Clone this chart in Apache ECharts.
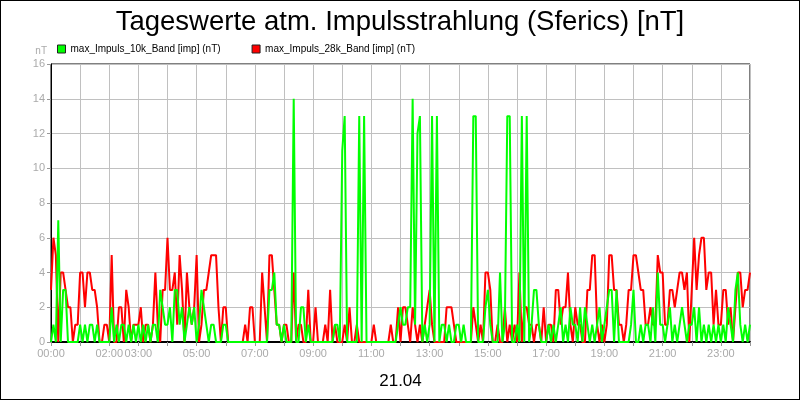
<!DOCTYPE html>
<html>
<head>
<meta charset="utf-8">
<script src="https://cdn.jsdelivr.net/npm/echarts@6/dist/echarts.min.js"></script>
<style>
html,body{margin:0;padding:0;background:#fff;}
#chart{width:798px;height:398px;border:1px solid #000;}
</style>
</head>
<body>
<div id="chart"></div>
<script>
// Title / labels
var chartTitle = 'Tageswerte atm. Impulsstrahlung (Sferics) [nT]';
var dateLabel = '21.04';
var unitLabel = 'nT';
var seriesNames = ['max_Impuls_10k_Band [imp] (nT)', 'max_Impuls_28k_Band [imp] (nT)'];

// x tick labels (hours that carry a label)
var xLabelHours = [0, 2, 3, 5, 7, 9, 11, 13, 15, 17, 19, 21, 23];
var xLabelTexts = ['00:00', '02:00', '03:00', '05:00', '07:00', '09:00', '11:00', '13:00', '15:00', '17:00', '19:00', '21:00', '23:00'];
var yTicks = [0, 2, 4, 6, 8, 10, 12, 14, 16];

// sampling: one value every 5 minutes from 00:00 to 24:00
var sampleMinutes = 5;

// 10k band (green)
var band10k = [
 0,1,0,7,0,3,3,0,0,0,0,0,
 1,0,1,0,1,1,0,1,0,0,0,0,
 0,2,0,1,0,1,1,0,1,0,1,0,
 1,0,1,0,1,0,1,1,0,3,2,1,
 1,2,0,3,3,1,2,0,1,2,1,2,
 0,1,3,2,1,0,1,1,0,0,0,1,
 1,0,0,0,0,0,0,0,0,0,0,0,
 0,0,0,0,0,0,3,3,4,1,1,0,
 1,0,0,0,14,0,0,2,2,0,1,0,
 0,0,0,0,0,0,0,0,0,1,1,0,
 11,13,0,0,0,0,0,13,0,13,0,0,
 0,0,0,0,0,0,0,0,0,0,0,1,
 2,1,1,2,2,14,1,12,13,0,1,0,
 1,13,0,13,0,1,1,0,1,0,0,1,
 1,0,1,0,0,0,13,13,0,0,0,2,
 3,1,0,0,0,4,0,1,13,13,0,0,
 1,0,13,0,13,0,1,3,3,1,0,0,
 0,1,0,1,0,1,2,0,1,0,2,1,
 1,0,2,0,2,1,0,1,0,1,2,0,
 1,2,3,3,0,3,0,0,0,0,0,1,
 3,0,0,1,0,1,1,0,2,0,4,1,
 1,0,1,2,0,1,0,1,2,1,0,1,
 1,2,0,2,0,1,0,1,0,1,0,1,
 0,1,0,2,1,0,3,4,1,0,1,0,
 1
];

// 28k band (red)
var band28k = [
 3,6,5,0,4,4,3,2,2,0,1,1,
 4,4,2,4,4,3,3,2,0,0,1,1,
 0,5,0,0,2,2,0,3,2,0,1,1,
 1,2,0,1,1,0,1,4,1,0,3,3,
 6,3,3,4,1,5,3,0,4,2,1,2,
 5,0,1,3,3,4,5,5,5,2,0,2,
 2,0,0,0,0,0,0,0,1,0,2,2,
 0,0,0,4,2,0,5,5,3,1,1,0,
 1,1,0,0,4,0,1,1,0,0,3,0,
 0,2,0,0,0,1,0,3,0,1,0,0,
 0,1,0,2,0,0,1,0,0,0,0,0,
 0,1,0,0,0,0,0,0,1,0,0,2,
 0,2,2,1,0,2,1,0,1,0,1,2,
 3,1,0,0,0,0,0,2,2,2,1,0,
 0,0,0,0,0,0,2,1,0,1,0,4,
 4,3,0,0,1,0,0,2,0,1,0,1,
 0,4,0,2,2,1,1,0,1,1,0,2,
 0,1,1,0,3,3,1,2,2,4,1,0,
 2,1,1,0,0,3,3,5,5,1,0,1,
 0,1,5,5,3,3,1,1,0,1,3,3,
 5,5,4,3,3,1,1,2,1,1,5,4,
 4,1,1,3,3,2,3,4,4,3,4,0,
 3,6,3,5,6,6,3,4,4,1,3,1,
 1,3,3,1,2,0,2,4,4,2,3,3,
 4
];

function toPoints(arr) {
  return arr.map(function (v, i) { return [i * sampleMinutes / 60, v]; });
}

var chart = echarts.init(document.getElementById('chart'), null, {renderer: 'canvas'});
var font = "'Liberation Sans', Arial, sans-serif";

chart.setOption({
  animation: false,
  backgroundColor: '#fff',
  textStyle: {fontFamily: font},
  title: {
    text: chartTitle,
    left: 'center',
    top: 2,
    textStyle: {fontSize: 27.5, fontWeight: 'normal', color: '#000', fontFamily: font}
  },
  legend: {
    left: 51,
    top: 38,
    icon: 'rect',
    itemWidth: 8,
    itemHeight: 8,
    itemGap: 31,
    textStyle: {fontSize: 10, color: '#000', fontFamily: font},
    data: [
      {name: seriesNames[0], itemStyle: {color: '#00ff00', borderColor: '#222', borderWidth: 1}},
      {name: seriesNames[1], itemStyle: {color: '#ff0000', borderColor: '#222', borderWidth: 1}}
    ]
  },
  grid: {
    left: 50, right: 49, top: 63, bottom: 57,
    show: true, borderColor: '#000', borderWidth: 1, backgroundColor: 'transparent'
  },
  xAxis: {
    type: 'value',
    min: 0, max: 24, interval: 1,
    name: dateLabel,
    nameLocation: 'middle',
    nameGap: 31,
    nameTextStyle: {fontSize: 17, color: '#000', fontFamily: font},
    axisLine: {lineStyle: {color: '#000', width: 2}},
    axisTick: {show: true, length: 4, lineStyle: {color: '#999'}},
    splitLine: {show: true, lineStyle: {color: '#c0c0c0', width: 1}},
    axisLabel: {
      color: '#aaa', fontSize: 11, margin: 6, fontFamily: font,
      showMinLabel: true, showMaxLabel: true,
      formatter: function (val) {
        var k = xLabelHours.indexOf(Math.round(val));
        return (k >= 0 && Math.abs(val - Math.round(val)) < 1e-6) ? xLabelTexts[k] : '';
      }
    }
  },
  yAxis: {
    type: 'value',
    min: yTicks[0], max: yTicks[yTicks.length - 1], interval: 2,
    name: unitLabel,
    nameLocation: 'end',
    nameGap: 8,
    nameTextStyle: {fontSize: 10, color: '#aaa', align: 'right', padding: [0, 4, 0, 0], fontFamily: font},
    axisLine: {show: true, lineStyle: {color: '#000', width: 1}},
    axisTick: {show: true, length: 4, lineStyle: {color: '#999'}},
    splitLine: {show: true, lineStyle: {color: '#c0c0c0', width: 1}},
    axisLabel: {color: '#aaa', fontSize: 11, margin: 6, fontFamily: font}
  },
  series: [
    {
      name: seriesNames[1],
      type: 'line',
      data: toPoints(band28k),
      showSymbol: false,
      color: '#ff0000',
      lineStyle: {color: '#ff0000', width: 2},
      z: 2
    },
    {
      name: seriesNames[0],
      type: 'line',
      data: toPoints(band10k),
      showSymbol: false,
      color: '#00ff00',
      lineStyle: {color: '#00ff00', width: 2},
      z: 3
    }
  ]
});
</script>
</body>
</html>
